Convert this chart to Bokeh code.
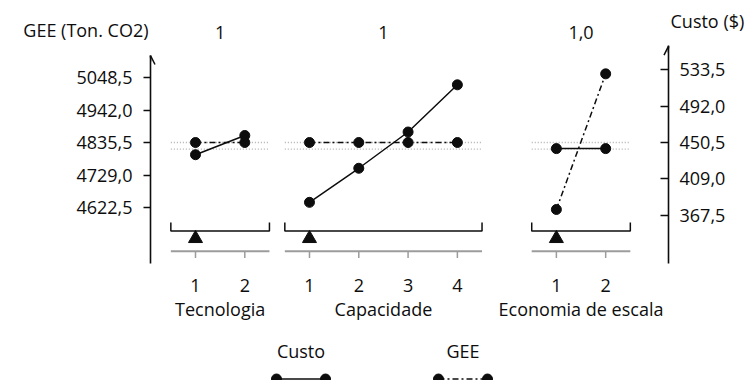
from bokeh.plotting import figure
from bokeh.models import Range1d, LinearAxis, FixedTicker, Arrow, OpenHead
from bokeh.layouts import column
from bokeh.embed import file_html
from bokeh.resources import INLINE
from bokeh.core.properties import value

# ---------------- data ----------------
factors = ["Tecnologia", "Capacidade", "Economia de escala"]
levels = [[1, 2], [1, 2, 3, 4], [1, 2]]
top_labels = ["1", "1", "1,0"]
current_level = [1, 1, 1]
gee = [[4835.5, 4835.5], [4835.5, 4835.5, 4835.5, 4835.5], [4616.0, 5060.5]]
custo = [[436.5, 458.5], [382.0, 421.0, 462.5, 516.5], [443.5, 443.5]]
current_gee = 4835.5
current_custo = 443.0
gee_ticks = [4622.5, 4729.0, 4835.5, 4942.0, 5048.5]
gee_tick_labels = ["4622,5", "4729,0", "4835,5", "4942,0", "5048,5"]
custo_ticks = [367.5, 409.0, 450.5, 492.0, 533.5]
custo_tick_labels = ["367,5", "409,0", "450,5", "492,0", "533,5"]
series_names = ["Custo", "GEE"]
axis_titles = ["GEE (Ton. CO2)", "Custo ($)"]

# ---------------- style / layout ----------------
FONT = "Open Sans"
FS = "18px"
INK = "#0d0d0d"
GRAY = "#9c9c9c"
REF = "#b0b0b0"
DASHDOT = "6 3 2 3"
W = 753
HEAD_H = 45
MAIN_H = 292
LEG_H = 380 - HEAD_H - MAIN_H
offsets = [0.0, 2.312, 7.32]
UNIT_PX, ORIGIN_PX = 49.3, 195.0          # horizontal layout scale


def px2x(px):
    return 1 + (px - ORIGIN_PX) / UNIT_PX


X_RANGE = (px2x(150), px2x(668))
GEE_RANGE = (4439.0, 5153.4)
CUSTO_RANGE = (312.0, 561.5)
GEE_TOP = 5120.6
DECO_H = 218

centers = [off + (lv[0] + lv[-1]) / 2 for off, lv in zip(offsets, levels)]


def bare(fig):
    fig.grid.visible = False
    fig.outline_line_color = None
    fig.background_fill_color = "white"
    fig.border_fill_color = "white"


# ---------------- header ----------------
hd = figure(width=W, height=HEAD_H, output_backend="svg", toolbar_location=None,
            x_range=Range1d(px2x(0), px2x(W)), y_range=Range1d(HEAD_H, 0),
            x_axis_location=None, y_axis_location=None, title=None,
            min_border=0, min_border_left=0, min_border_right=0,
            min_border_top=0, min_border_bottom=0, frame_align=False)
bare(hd)
hd.text(x=centers, y=[32.3] * 3, text=top_labels, text_font=value(FONT),
        text_font_size=value(FS), text_color=INK, text_align="center",
        text_baseline="middle")
hd.text(x=[px2x(148)], y=[29.5], text=[axis_titles[0]], text_font=value(FONT),
        text_font_size=value(FS), text_color=INK, text_align="right",
        text_baseline="middle")
hd.text(x=[px2x(670)], y=[20.5], text=[axis_titles[1]], text_font=value(FONT),
        text_font_size=value(FS), text_color=INK, text_align="left",
        text_baseline="middle")

# ---------------- main chart ----------------
p = figure(width=W, height=MAIN_H, output_backend="svg", toolbar_location=None, title=None,
           x_range=Range1d(*X_RANGE), y_range=Range1d(*GEE_RANGE),
           min_border_left=150, min_border_right=W - 668, min_border_top=0,
           min_border_bottom=74, frame_align=False)
p.extra_y_ranges = {"custo": Range1d(*CUSTO_RANGE), "deco": Range1d(0, DECO_H)}
bare(p)


def style_labels(ax):
    ax.major_label_text_font = FONT
    ax.major_label_text_font_size = FS
    ax.major_label_text_color = INK
    ax.minor_tick_line_color = None


# left axis (GEE)
ya = p.yaxis[0]
ya.ticker = FixedTicker(ticks=gee_ticks)
ya.major_label_overrides = dict(zip(gee_ticks, gee_tick_labels))
ya.axis_line_width = 1.6
ya.axis_line_color = INK
ya.major_tick_line_width = 1.4
ya.major_tick_line_color = INK
ya.major_tick_out = 7
ya.major_tick_in = 0
ya.major_label_standoff = 11
ya.bounds = (GEE_RANGE[0], GEE_TOP)
style_labels(ya)

# right axis (Custo)
ra = LinearAxis(y_range_name="custo", ticker=FixedTicker(ticks=custo_ticks))
ra.major_label_overrides = dict(zip(custo_ticks, custo_tick_labels))
ra.axis_line_width = 1.6
ra.axis_line_color = INK
ra.major_tick_line_width = 1.4
ra.major_tick_line_color = INK
ra.major_tick_in = 8
ra.major_tick_out = 0
ra.major_label_standoff = 11
style_labels(ra)
p.add_layout(ra, "right")

# arrows on top of vertical axes
p.add_layout(Arrow(end=OpenHead(size=9, line_width=1.5, line_color=INK),
                   x_start=X_RANGE[0], y_start=GEE_TOP - 20, x_end=X_RANGE[0], y_end=GEE_TOP,
                   line_width=1.6, line_color=INK))
p.add_layout(Arrow(end=OpenHead(size=9, line_width=1.5, line_color=INK),
                   x_start=X_RANGE[1], y_start=CUSTO_RANGE[1] - 8, x_end=X_RANGE[1],
                   y_end=CUSTO_RANGE[1] - 0.8,
                   y_range_name="custo", line_width=1.6, line_color=INK))

# bottom axis: level labels
tick_pos, tick_txt = [], []
for off, lv in zip(offsets, levels):
    for l in lv:
        tick_pos.append(off + l)
        tick_txt.append(str(l))
xa = p.xaxis[0]
xa.ticker = FixedTicker(ticks=tick_pos)
xa.major_label_overrides = dict(zip(tick_pos, tick_txt))
xa.axis_line_color = None
xa.major_tick_line_color = None
xa.major_label_standoff = 9
style_labels(xa)

# bottom axis 2: factor names
xa2 = LinearAxis(ticker=FixedTicker(ticks=centers))
xa2.major_label_overrides = dict(zip(centers, factors))
xa2.axis_line_color = None
xa2.major_tick_line_color = None
xa2.major_label_standoff = -4
style_labels(xa2)
p.add_layout(xa2, "below")

# panels
for i, (off, lv) in enumerate(zip(offsets, levels)):
    xs = [off + l for l in lv]
    x0, x1 = off + lv[0] - 0.5, off + lv[-1] + 0.5
    # reference (current value) dotted lines
    p.segment(x0=[x0], x1=[x1], y0=[current_gee], y1=[current_gee],
              line_color=REF, line_width=1.3, line_dash="1 2")
    p.segment(x0=[x0], x1=[x1], y0=[current_custo], y1=[current_custo],
              line_color=REF, line_width=1.3, line_dash="1 2", y_range_name="custo")
    # GEE
    p.line(xs, gee[i], line_color=INK, line_width=1.5, line_dash=DASHDOT)
    p.scatter(xs, gee[i], size=10, color=INK)
    # Custo
    p.line(xs, custo[i], line_color=INK, line_width=1.5, y_range_name="custo")
    p.scatter(xs, custo[i], size=10, color=INK, y_range_name="custo")
    # bracket
    p.line([x0, x0, x1, x1], [41, 32.5, 32.5, 41], line_color=INK, line_width=1.5,
           y_range_name="deco")
    # current level marker
    p.scatter([off + current_level[i]], [25], marker="triangle", size=14, color=INK,
              y_range_name="deco")
    # gray level axis
    p.segment(x0=[x0], x1=[x1], y0=[12.3], y1=[12.3], line_color=GRAY, line_width=2,
              y_range_name="deco")
    p.segment(x0=xs, x1=xs, y0=[12.3] * len(xs), y1=[5.5] * len(xs), line_color=GRAY,
              line_width=1.5, y_range_name="deco")

# ---------------- legend ----------------
lg = figure(width=W, height=LEG_H, output_backend="svg", toolbar_location=None, title=None,
            x_range=Range1d(0, W), y_range=Range1d(380, 380 - LEG_H),
            x_axis_location=None, y_axis_location=None,
            min_border=0, min_border_left=0, min_border_right=0,
            min_border_top=0, min_border_bottom=0, frame_align=False)
bare(lg)
leg_x = [(276, 325), (438, 487)]
leg_dash = ["solid", DASHDOT]
for name, (a, b), dash in zip(series_names, leg_x, leg_dash):
    lg.text(x=[(a + b) / 2], y=[350], text=[name], text_font=value(FONT),
            text_font_size=value(FS), text_color=INK, text_align="center",
            text_baseline="middle")
    lg.line([a, b], [378.5, 378.5], line_color=INK, line_width=1.5, line_dash=dash)
    lg.scatter([a, b], [378.5, 378.5], size=10, color=INK)

layout = column(hd, p, lg, spacing=0)
open("out.html", "w").write(file_html(layout, INLINE))
